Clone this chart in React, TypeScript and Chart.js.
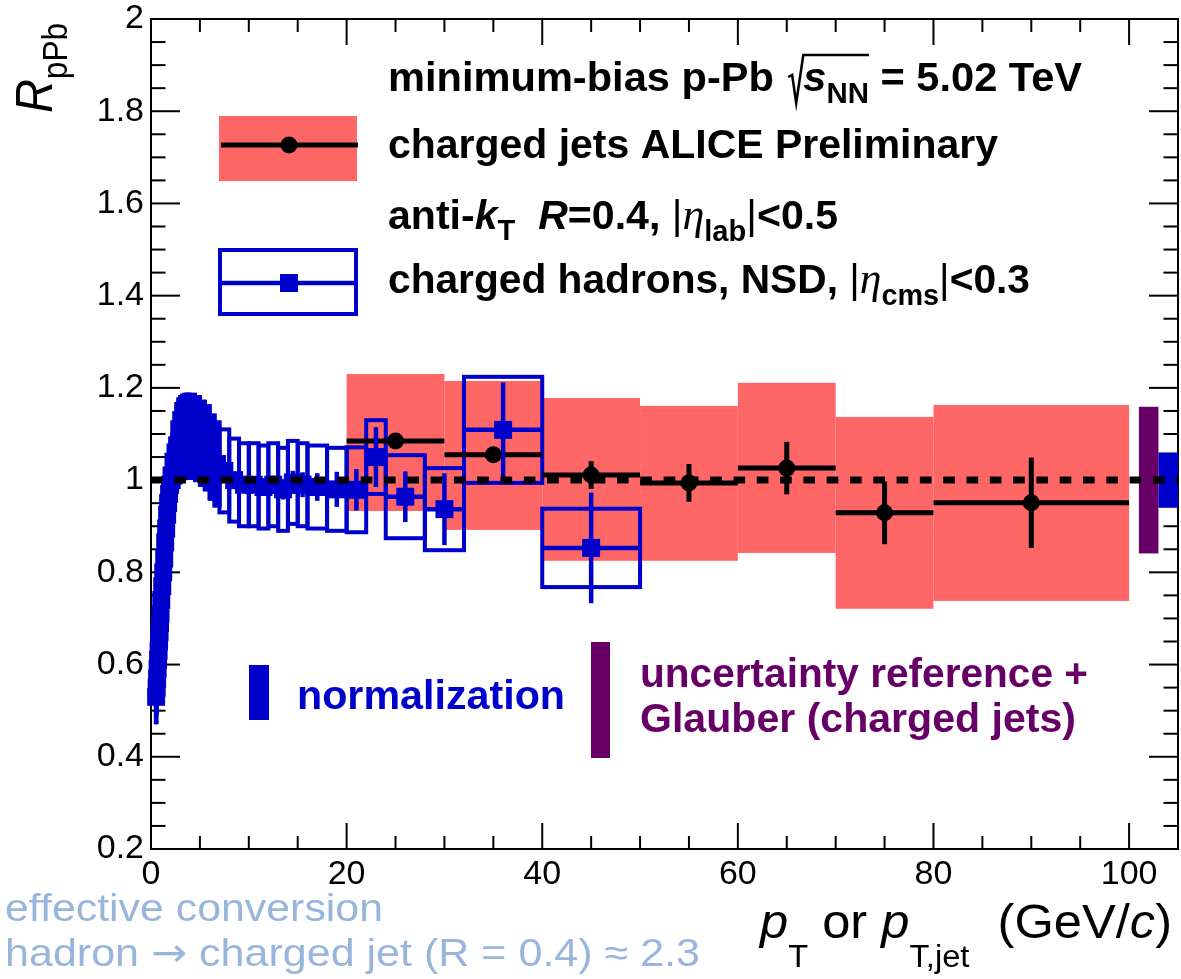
import React, { useEffect, useRef } from "react";
import { Chart, registerables } from "chart.js";
Chart.register(...registerables);

// ---- charged jets (ALICE preliminary) ----
const jetPt = [25, 35, 45, 55, 65, 75, 90];
const jetLo = [20, 30, 40, 50, 60, 70, 80];
const jetHi = [30, 40, 50, 60, 70, 80, 100];
const jetVal = [1.085, 1.055, 1.011, 0.994, 1.026, 0.929, 0.951];
const jetStat = [0.015, 0.015, 0.03, 0.041, 0.057, 0.068, 0.098];
const jetSysLow = [0.933, 0.892, 0.825, 0.825, 0.842, 0.721, 0.738];
const jetSysHigh = [1.23, 1.215, 1.178, 1.161, 1.211, 1.137, 1.163];

// ---- charged hadrons, NSD ----
const hadLo = [0.5, 0.55, 0.6, 0.65, 0.7, 0.75, 0.8, 0.85, 0.9, 0.95, 1.0, 1.1, 1.2, 1.3, 1.4, 1.5, 1.6, 1.7, 1.8, 1.9, 2.0, 2.2, 2.4, 2.6, 2.8, 3.0, 3.2, 3.4, 3.6, 3.8, 4.0, 4.5, 5.0, 5.5, 6.0, 6.5, 7, 8, 9, 10, 11, 12, 13, 14, 15, 16, 18, 20, 22, 24, 28, 32, 40];
const hadHi = [0.55, 0.6, 0.65, 0.7, 0.75, 0.8, 0.85, 0.9, 0.95, 1.0, 1.1, 1.2, 1.3, 1.4, 1.5, 1.6, 1.7, 1.8, 1.9, 2.0, 2.2, 2.4, 2.6, 2.8, 3.0, 3.2, 3.4, 3.6, 3.8, 4.0, 4.5, 5.0, 5.5, 6.0, 6.5, 7, 8, 9, 10, 11, 12, 13, 14, 15, 16, 18, 20, 22, 24, 28, 32, 40, 50];
const hadPt = [0.525, 0.575, 0.625, 0.675, 0.725, 0.775, 0.825, 0.875, 0.925, 0.975, 1.05, 1.15, 1.25, 1.35, 1.45, 1.55, 1.65, 1.75, 1.85, 1.95, 2.1, 2.3, 2.5, 2.7, 2.9, 3.1, 3.3, 3.5, 3.7, 3.9, 4.25, 4.75, 5.25, 5.75, 6.25, 6.75, 7.5, 8.5, 9.5, 10.5, 11.5, 12.5, 13.5, 14.5, 15.5, 17, 19, 21, 23, 26, 30, 36, 45];
const hadVal = [0.53, 0.55, 0.57, 0.59, 0.61, 0.63, 0.65, 0.67, 0.69, 0.71, 0.74, 0.77, 0.8, 0.83, 0.865, 0.895, 0.925, 0.95, 0.97, 0.99, 1.01, 1.04, 1.06, 1.075, 1.085, 1.09, 1.093, 1.095, 1.095, 1.095, 1.095, 1.09, 1.08, 1.07, 1.05, 1.035, 1.02, 1.0, 0.99, 0.99, 0.985, 0.99, 0.98, 0.995, 0.99, 0.985, 0.98, 0.979, 1.05, 0.964, 0.937, 1.109, 0.853];
const hadStat = [0.003, 0.003, 0.003, 0.003, 0.003, 0.003, 0.003, 0.003, 0.003, 0.003, 0.003, 0.003, 0.003, 0.003, 0.003, 0.003, 0.003, 0.003, 0.003, 0.003, 0.004, 0.004, 0.004, 0.004, 0.004, 0.004, 0.004, 0.004, 0.004, 0.004, 0.005, 0.005, 0.005, 0.005, 0.005, 0.005, 0.01, 0.012, 0.014, 0.016, 0.018, 0.02, 0.022, 0.025, 0.027, 0.03, 0.038, 0.045, 0.065, 0.055, 0.078, 0.103, 0.12];
const hadSys = [0.055, 0.055, 0.055, 0.055, 0.055, 0.055, 0.055, 0.055, 0.055, 0.055, 0.065, 0.065, 0.065, 0.065, 0.065, 0.065, 0.065, 0.065, 0.065, 0.065, 0.08, 0.085, 0.085, 0.09, 0.09, 0.09, 0.09, 0.09, 0.09, 0.09, 0.09, 0.09, 0.09, 0.09, 0.09, 0.09, 0.09, 0.09, 0.09, 0.09, 0.09, 0.09, 0.09, 0.09, 0.09, 0.09, 0.09, 0.092, 0.08, 0.09, 0.089, 0.115, 0.085];

// normalization uncertainties (around unity)
const normHadron = 0.06;
const normJet = 0.159;

// axis ticks
const xTickStep = 20;
const yTickStep = 0.2;

const BLUE = "#0000cc";
const RED = "#ff6666";
const PURPLE = "#660066";
const LBLUE = "#98b6dc";
const SANS = "'Liberation Sans', Arial, Helvetica, sans-serif";
const SERIF = "'Liberation Serif', 'DejaVu Serif', serif";

type Seg = { t?: string; size?: number; bold?: boolean; italic?: boolean; dy?: number; family?: string; w?: number };

function fontStr(s: Seg) {
  return `${s.italic ? "italic " : ""}${s.bold ? "bold " : ""}${s.size || 40}px ${s.family || SANS}`;
}

function rich(
  ctx: CanvasRenderingContext2D,
  segs: Seg[],
  x: number,
  y: number,
  targetW: number,
  color: string,
  after?: (ctx: CanvasRenderingContext2D, xs: number[], ws: number[]) => void
) {
  const ws: number[] = [];
  let total = 0;
  for (const s of segs) {
    let w = s.w || 0;
    if (s.t) {
      ctx.font = fontStr(s);
      w = ctx.measureText(s.t).width;
    }
    ws.push(w);
    total += w;
  }
  const sx = targetW ? targetW / total : 1;
  ctx.save();
  ctx.translate(x, y);
  ctx.scale(sx, 1);
  ctx.fillStyle = color;
  ctx.strokeStyle = color;
  ctx.textAlign = "left";
  ctx.textBaseline = "alphabetic";
  const xs: number[] = [];
  let cx = 0;
  segs.forEach((s, i) => {
    xs.push(cx);
    if (s.t) {
      ctx.font = fontStr(s);
      ctx.fillText(s.t, cx, s.dy || 0);
    }
    cx += ws[i];
  });
  if (after) after(ctx, xs, ws);
  ctx.restore();
}

export default function App() {
  const ref = useRef<HTMLCanvasElement>(null);

  useEffect(() => {
    const canvas = ref.current!;

    const line = (ctx: CanvasRenderingContext2D, x1: number, y1: number, x2: number, y2: number) => {
      ctx.beginPath();
      ctx.moveTo(x1, y1);
      ctx.lineTo(x2, y2);
      ctx.stroke();
    };

    const rootPlugin = {
      id: "rootStyle",
      beforeDatasetsDraw(chart: any) {
        const { ctx, chartArea: a, scales } = chart;
        const xs = scales.x, ys = scales.y;
        const X = (v: number) => xs.getPixelForValue(v);
        const Y = (v: number) => ys.getPixelForValue(v);
        ctx.save();
        // frame + ticks
        ctx.strokeStyle = "#000";
        ctx.lineWidth = 2;
        ctx.lineCap = "butt";
        ctx.strokeRect(a.left, a.top, a.right - a.left, a.bottom - a.top);
        for (let i = 4; i <= 40; i++) {
          const py = Y(i * 0.05);
          const L = i % 4 === 0 ? 29 : 14.5;
          line(ctx, a.left, py, a.left + L, py);
          line(ctx, a.right, py, a.right - L, py);
        }
        for (let i = 0; i <= 21; i++) {
          const px = X(i * 5);
          const L = i % 4 === 0 ? 26 : 13;
          line(ctx, px, a.bottom, px, a.bottom - L);
          line(ctx, px, a.top, px, a.top + L);
        }
        // jet systematic boxes
        ctx.fillStyle = RED;
        jetPt.forEach((_, i) => {
          ctx.fillRect(X(jetLo[i]), Y(jetSysHigh[i]), X(jetHi[i]) - X(jetLo[i]), Y(jetSysLow[i]) - Y(jetSysHigh[i]));
        });
        // hadron systematic boxes
        ctx.strokeStyle = BLUE;
        ctx.fillStyle = BLUE;
        ctx.lineWidth = 4;
        hadPt.forEach((_, i) => {
          const t = Y(hadVal[i] + hadSys[i]);
          const b = Y(hadVal[i] - hadSys[i]);
          const l = X(hadLo[i]);
          const w = X(hadHi[i]) - l;
          if (w < 6) ctx.fillRect(l - 2, t - 2, w + 4, b - t + 4);
          ctx.strokeRect(l, t, w, b - t);
        });
        // jet stat errors
        ctx.strokeStyle = "#000";
        ctx.lineWidth = 5;
        jetPt.forEach((p, i) => {
          line(ctx, X(jetLo[i]), Y(jetVal[i]), X(jetHi[i]), Y(jetVal[i]));
          line(ctx, X(p), Y(jetVal[i] - jetStat[i]), X(p), Y(jetVal[i] + jetStat[i]));
        });
        // hadron stat errors
        ctx.strokeStyle = BLUE;
        ctx.lineWidth = 4.5;
        hadPt.forEach((p, i) => {
          line(ctx, X(hadLo[i]), Y(hadVal[i]), X(hadHi[i]), Y(hadVal[i]));
          line(ctx, X(p), Y(hadVal[i] - hadStat[i]), X(p), Y(hadVal[i] + hadStat[i]));
        });
        ctx.restore();
      },
      afterDatasetsDraw(chart: any) {
        const { ctx, scales } = chart;
        const xs = scales.x, ys = scales.y;
        const X = (v: number) => xs.getPixelForValue(v);
        const Y = (v: number) => ys.getPixelForValue(v);
        ctx.save();
        // normalization boxes at the right edge
        ctx.fillStyle = PURPLE;
        ctx.fillRect(X(101), Y(1 + normJet), X(103) - X(101), Y(1 - normJet) - Y(1 + normJet));
        ctx.fillStyle = BLUE;
        ctx.fillRect(X(103), Y(1 + normHadron), X(105) - X(103), Y(1 - normHadron) - Y(1 + normHadron));
        // unity dashed line
        ctx.strokeStyle = "#000";
        ctx.lineWidth = 7;
        ctx.setLineDash([11.65, 11.65]);
        line(ctx, X(0), Y(1), X(105), Y(1));
        ctx.setLineDash([]);
        ctx.restore();
      },
      afterDraw(chart: any) {
        const { ctx } = chart;
        ctx.save();
        // ---- legend ----
        ctx.fillStyle = RED;
        ctx.fillRect(219, 116, 138, 65);
        ctx.strokeStyle = "#000";
        ctx.lineWidth = 5;
        line(ctx, 221, 145, 358, 145);
        ctx.fillStyle = "#000";
        ctx.beginPath();
        ctx.arc(289, 145, 8.5, 0, Math.PI * 2);
        ctx.fill();

        ctx.strokeStyle = BLUE;
        ctx.lineWidth = 4;
        ctx.strokeRect(220, 250, 136, 64);
        ctx.lineWidth = 4.5;
        line(ctx, 220, 283, 356, 283);
        ctx.fillStyle = BLUE;
        ctx.fillRect(280, 274, 18, 18);

        const B = 41;
        rich(
          ctx,
          [
            { t: "minimum-bias p-Pb", bold: true, size: B },
            { w: 14 },
            { w: 15 },
            { t: "s", bold: true, italic: true, size: B },
            { t: "NN", bold: true, size: 29, dy: 12 },
            { t: " = 5.02 TeV", bold: true, size: B },
          ],
          388, 91, 694, "#000",
          (c, px, pw) => {
            const x0 = px[2];
            const xe = px[4] + pw[4];
            c.lineWidth = 2.5;
            c.beginPath();
            c.moveTo(x0, -14);
            c.lineTo(x0 + 4, -16);
            c.lineTo(x0 + 8, 12);
            c.lineTo(x0 + pw[2], -36);
            c.lineTo(xe, -36);
            c.stroke();
          }
        );
        rich(ctx, [{ t: "charged jets ALICE Preliminary", bold: true, size: B }], 388, 158, 610, "#000");
        rich(
          ctx,
          [
            { t: "anti-", bold: true, size: B },
            { t: "k", bold: true, italic: true, size: B },
            { t: "T", bold: true, size: 29, dy: 11 },
            { t: "  ", bold: true, size: B },
            { t: "R", bold: true, italic: true, size: B },
            { t: "=0.4, ", bold: true, size: B },
            { t: "|", size: B },
            { t: "\u03b7", italic: true, size: 44, family: SERIF },
            { t: "lab", bold: true, size: 29, dy: 12 },
            { t: "|", size: B },
            { t: "<0.5", bold: true, size: B },
          ],
          388, 229, 450, "#000"
        );
        rich(
          ctx,
          [
            { t: "charged hadrons, NSD, ", bold: true, size: B },
            { t: "|", size: B },
            { t: "\u03b7", italic: true, size: 44, family: SERIF },
            { t: "cms", bold: true, size: 29, dy: 12 },
            { t: "|", size: B },
            { t: "<0.3", bold: true, size: B },
          ],
          388, 293, 642, "#000"
        );

        // ---- normalization annotations ----
        ctx.fillStyle = BLUE;
        ctx.fillRect(249, 665, 20, 55);
        rich(ctx, [{ t: "normalization", bold: true, size: B }], 297, 709, 268, BLUE);
        ctx.fillStyle = PURPLE;
        ctx.fillRect(591, 642, 19, 116);
        rich(ctx, [{ t: "uncertainty reference +", bold: true, size: B }], 640, 687, 448, PURPLE);
        rich(ctx, [{ t: "Glauber (charged jets)", bold: true, size: B }], 640, 732, 436, PURPLE);

        // ---- axis titles ----
        ctx.save();
        ctx.translate(52, 113);
        ctx.rotate(-Math.PI / 2);
        rich(ctx, [{ t: "R", italic: true, size: 52 }, { t: "pPb", size: 35, dy: 15 }], 0, 0, 90, "#000");
        ctx.restore();

        rich(
          ctx,
          [
            { t: "p", italic: true, size: 48 },
            { t: "T", size: 31, dy: 29 },
            { t: " or ", size: 48 },
            { t: "p", italic: true, size: 48 },
            { t: "T,jet", size: 31, dy: 29 },
            { t: "  (GeV/", size: 48 },
            { t: "c", italic: true, size: 48 },
            { t: ")", size: 48 },
          ],
          760, 938, 412, "#000"
        );

        // ---- conversion note ----
        rich(ctx, [{ t: "effective conversion", size: 39 }], 5, 921, 378, LBLUE);
        rich(
          ctx,
          [
            { t: "hadron ", size: 39 },
            { t: "\u2192", size: 39, family: "'DejaVu Sans', sans-serif" },
            { t: " charged jet (R = 0.4) \u2248 2.3", size: 39 },
          ],
          5, 966, 695, LBLUE
        );
        ctx.restore();
      },
    };

    const chart = new Chart(canvas, {
      type: "scatter",
      data: {
        datasets: [
          {
            label: "charged hadrons",
            data: hadPt.map((p, i) => ({ x: p, y: hadVal[i] })),
            pointStyle: "rect",
            pointRadius: 12.7,
            pointBackgroundColor: BLUE,
            pointBorderWidth: 0,
            clip: false as any,
            order: 1,
          },
          {
            label: "charged jets",
            data: jetPt.map((p, i) => ({ x: p, y: jetVal[i] })),
            pointStyle: "circle",
            pointRadius: 8.5,
            pointBackgroundColor: "#000",
            pointBorderWidth: 0,
            clip: false as any,
            order: 2,
          },
        ],
      },
      options: {
        animation: false,
        responsive: false,
        maintainAspectRatio: false,
        devicePixelRatio: 1,
        events: [],
        layout: { autoPadding: false, padding: { left: 0, right: 3, top: 19, bottom: 0 } },
        plugins: { legend: { display: false }, tooltip: { enabled: false } },
        scales: {
          x: {
            type: "linear",
            min: 0,
            max: 105,
            grid: { display: false, drawTicks: false },
            border: { display: false },
            ticks: {
              stepSize: xTickStep,
              includeBounds: false,
              color: "#000",
              padding: 5,
              maxRotation: 0,
              autoSkip: false,
              font: { family: SANS, size: 34 },
              callback: (v: any) => String(Math.round(Number(v))),
            },
            afterFit: (s: any) => {
              s.height = 130;
              s.paddingLeft = 0;
              s.paddingRight = 0;
            },
          },
          y: {
            type: "linear",
            min: 0.2,
            max: 2,
            grid: { display: false, drawTicks: false },
            border: { display: false },
            ticks: {
              stepSize: yTickStep,
              color: "#000",
              padding: 7,
              autoSkip: false,
              font: { family: SANS, size: 34 },
              callback: (v: any) => {
                const r = Math.round(Number(v) * 10) / 10;
                return Number.isInteger(r) ? String(r) : r.toFixed(1);
              },
            },
            afterFit: (s: any) => {
              s.width = 151;
              s.paddingTop = 0;
              s.paddingBottom = 0;
            },
          },
        },
      },
      plugins: [rootPlugin],
    });

    return () => chart.destroy();
  }, []);

  return (
    <div style={{ position: "absolute", left: 0, top: 0, width: 1181, height: 979, background: "#fff" }}>
      <canvas ref={ref} width={1181} height={979} style={{ display: "block" }} />
    </div>
  );
}
